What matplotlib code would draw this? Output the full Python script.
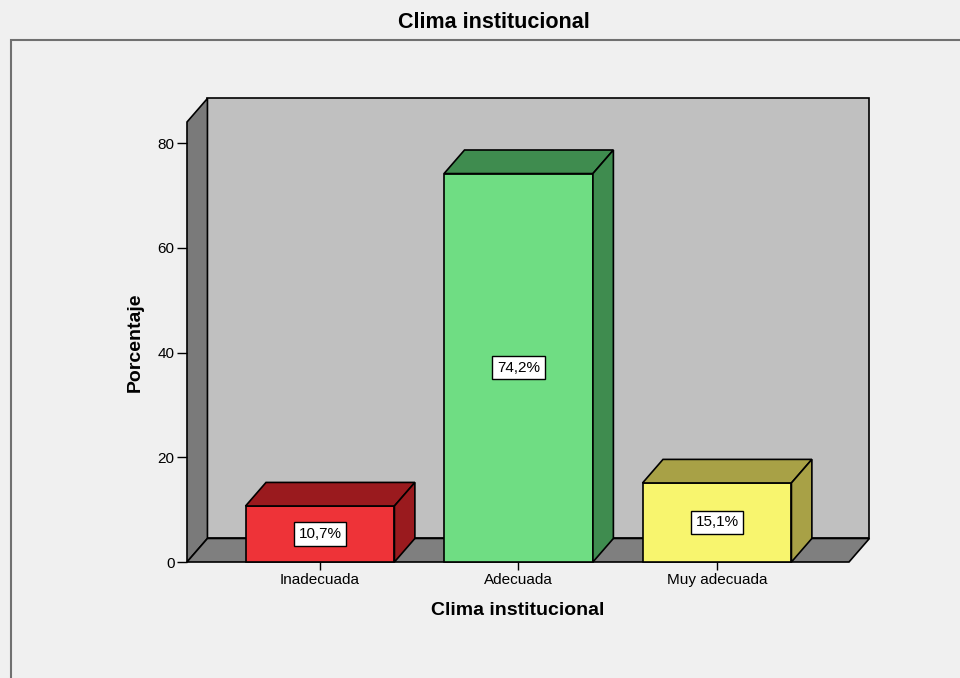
import numpy as np
import matplotlib
matplotlib.use("Agg")
import matplotlib.pyplot as plt
from matplotlib.patches import Polygon, Rectangle

plt.rcParams['font.family'] = ['Liberation Sans', 'DejaVu Sans']

categories = ['Inadecuada', 'Adecuada', 'Muy adecuada']
percentages = [10.7, 74.2, 15.1]
value_labels = ['10,7%', '74,2%', '15,1%']
yticks = [0, 20, 40, 60, 80]

front_colors = ['#EE3338', '#6FDD83', '#F8F56E']
dark_colors = ['#9A1A1E', '#3F8C4F', '#A8A146']

W, H = 960, 678
fig = plt.figure(figsize=(W / 100, H / 100), dpi=100, facecolor='#F0F0F0')

# outer frame (runs off right/bottom edge like the screenshot)
fig.patches.append(Rectangle((11 / W, -0.05), 1.0, (H - 40) / H + 0.05,
                             transform=fig.transFigure, facecolor='#F0F0F0',
                             edgecolor='#707070', linewidth=1.5, zorder=-5))

left, right, bottom, top = 187, 849, 562, 122
ax = fig.add_axes([left / W, (H - bottom) / H, (right - left) / W, (bottom - top) / H])
ax.set_facecolor('none')
x0, x1 = 0.33, 3.665
ytop = 84.05
ax.set_xlim(x0, x1)
ax.set_ylim(0, ytop)
for s in ax.spines.values():
    s.set_visible(False)

dx, dy = 0.103, 4.5
ek = dict(edgecolor='black', linewidth=1.2, clip_on=False)

# walls and floor
ax.add_patch(Rectangle((x0 + dx, dy), x1 - x0, ytop, facecolor='#C0C0C0', zorder=1, **ek))
ax.add_patch(Polygon([(x0, 0), (x0 + dx, dy), (x0 + dx, ytop + dy), (x0, ytop)],
                     facecolor='#7A7A7A', zorder=1, **ek))
ax.add_patch(Polygon([(x0, 0), (x1, 0), (x1 + dx, dy), (x0 + dx, dy)],
                     facecolor='#7F7F7F', zorder=1, **ek))

w = 0.75
xs = np.arange(1, len(categories) + 1)
for c, v, lab, fc, dc in zip(xs, percentages, value_labels, front_colors, dark_colors):
    a, b = c - w / 2, c + w / 2
    ax.add_patch(Rectangle((a, 0), w, v, facecolor=fc, zorder=3, **ek))
    ax.add_patch(Polygon([(a, v), (b, v), (b + dx, v + dy), (a + dx, v + dy)],
                         facecolor=dc, zorder=3, **ek))
    ax.add_patch(Polygon([(b, 0), (b + dx, dy), (b + dx, v + dy), (b, v)],
                         facecolor=dc, zorder=3, **ek))
    ax.text(c, v / 2, lab, ha='center', va='center', fontsize=11, zorder=5,
            bbox=dict(boxstyle='square,pad=0.3', facecolor='white',
                      edgecolor='black', linewidth=1))

ax.set_xticks(xs)
ax.set_xticklabels(categories, fontsize=11)
ax.set_yticks(yticks)
ax.set_yticklabels([str(t) for t in yticks], fontsize=11)
ax.tick_params(axis='y', length=7, width=1, pad=2)
ax.tick_params(axis='x', length=6, width=1, pad=2)

ax.set_xlabel('Clima institucional', fontsize=14, fontweight='bold', labelpad=11)
ax.set_ylabel('Porcentaje', fontsize=14, fontweight='bold', labelpad=10)
fig.text(494 / W, 1 - 22 / H, 'Clima institucional', ha='center', va='center',
         fontsize=15.5, fontweight='bold')

fig.savefig('out.png', dpi=100, facecolor=fig.get_facecolor())
